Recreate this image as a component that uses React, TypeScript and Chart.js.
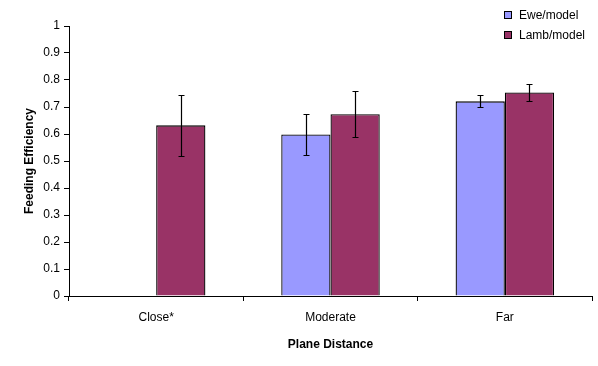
import React, { useEffect, useRef } from "react";
import { Chart, registerables } from "chart.js";

Chart.register(...registerables);

const categories = ["Close*", "Moderate", "Far"];
const seriesNames = ["Ewe/model", "Lamb/model"];
const eweValues = [null, 0.598, 0.721];
const lambValues = [0.632, 0.673, 0.754];
const eweErrors = [null, 0.075, 0.022];
const lambErrors = [0.113, 0.085, 0.03];
const yTicks = [0, 0.1, 0.2, 0.3, 0.4, 0.5, 0.6, 0.7, 0.8, 0.9, 1];
const colors = ["#9999FF", "#993366"];
const FONT = "'Liberation Sans', Arial, sans-serif";

const errorBarPlugin = {
  id: "errorBars",
  afterDatasetsDraw(chart: any) {
    const ctx = chart.ctx;
    const y = chart.scales.y;
    const errs = [eweErrors, lambErrors];
    ctx.save();
    ctx.strokeStyle = "#000";
    ctx.lineWidth = 1.2;
    chart.data.datasets.forEach((ds: any, di: number) => {
      const meta = chart.getDatasetMeta(di);
      meta.data.forEach((el: any, i: number) => {
        const v = ds.data[i];
        const e = errs[di][i];
        if (v == null || e == null) return;
        const x = Math.round(el.x) + 0.5;
        const yt = Math.round(y.getPixelForValue(v + e)) + 0.5;
        const yb = Math.round(y.getPixelForValue(v - e)) + 0.5;
        ctx.beginPath();
        ctx.moveTo(x, yt);
        ctx.lineTo(x, yb);
        ctx.moveTo(x - 3, yt);
        ctx.lineTo(x + 3, yt);
        ctx.moveTo(x - 3, yb);
        ctx.lineTo(x + 3, yb);
        ctx.stroke();
      });
    });
    ctx.restore();
  },
};

const legendPlugin = {
  id: "customLegend",
  afterDraw(chart: any) {
    const ctx = chart.ctx;
    ctx.save();
    ctx.font = `12px ${FONT}`;
    ctx.textBaseline = "middle";
    ctx.textAlign = "left";
    seriesNames.forEach((name, i) => {
      const cy = 15 + i * 20;
      ctx.fillStyle = colors[i];
      ctx.fillRect(505, cy - 3, 6, 6);
      ctx.strokeStyle = "#000";
      ctx.lineWidth = 1;
      ctx.strokeRect(504.5, cy - 3.5, 7, 7);
      ctx.fillStyle = "#000";
      ctx.fillText(name, 519, cy + 1);
    });
    ctx.restore();
  },
};

export default function App() {
  const ref = useRef<HTMLCanvasElement>(null);
  useEffect(() => {
    document.body.style.margin = "0";
    const chart = new Chart(ref.current!, {
      type: "bar",
      data: {
        labels: categories,
        datasets: [
          {
            label: seriesNames[0],
            data: eweValues as any,
            backgroundColor: colors[0],
            borderColor: "#000",
            borderWidth: 1.3,
            barPercentage: 1,
            categoryPercentage: 0.565,
          },
          {
            label: seriesNames[1],
            data: lambValues,
            backgroundColor: colors[1],
            borderColor: "#000",
            borderWidth: 1.3,
            barPercentage: 1,
            categoryPercentage: 0.565,
          },
        ],
      },
      options: {
        animation: false,
        responsive: false,
        maintainAspectRatio: false,
        layout: { padding: { top: 26, right: 6, left: 16, bottom: 14 } },
        plugins: {
          legend: { display: false },
          tooltip: { enabled: false },
        },
        scales: {
          x: {
            offset: true,
            grid: {
              display: true,
              drawOnChartArea: false,
              offset: true,
              tickLength: 5,
              tickColor: "#000",
            },
            border: { color: "#000", width: 1 },
            ticks: {
              color: "#000",
              font: { family: FONT, size: 12 },
              padding: 9,
            },
            title: {
              display: true,
              text: "Plane Distance",
              color: "#000",
              font: { family: FONT, size: 12, weight: "bold" },
              padding: { top: 4, bottom: 0 },
            },
            afterFit(scale: any) {
              scale.height = 56;
            },
          },
          y: {
            min: 0,
            max: 1,
            afterBuildTicks(scale: any) {
              scale.ticks = yTicks.map((v) => ({ value: v }));
            },
            grid: {
              display: true,
              drawOnChartArea: false,
              tickLength: 5,
              tickColor: "#000",
            },
            border: { color: "#000", width: 1 },
            ticks: {
              color: "#000",
              font: { family: FONT, size: 12 },
              padding: 4,
              callback: (v: any) => String(Math.round(Number(v) * 10) / 10),
            },
            title: {
              display: true,
              text: "Feeding Efficiency",
              color: "#000",
              font: { family: FONT, size: 12, weight: "bold" },
              padding: { top: 6, bottom: 4 },
            },
            afterFit(scale: any) {
              scale.width = 53;
            },
          },
        },
      },
      plugins: [errorBarPlugin, legendPlugin],
    });
    return () => chart.destroy();
  }, []);
  return <canvas ref={ref} width={598} height={366} style={{ display: "block" }} />;
}
